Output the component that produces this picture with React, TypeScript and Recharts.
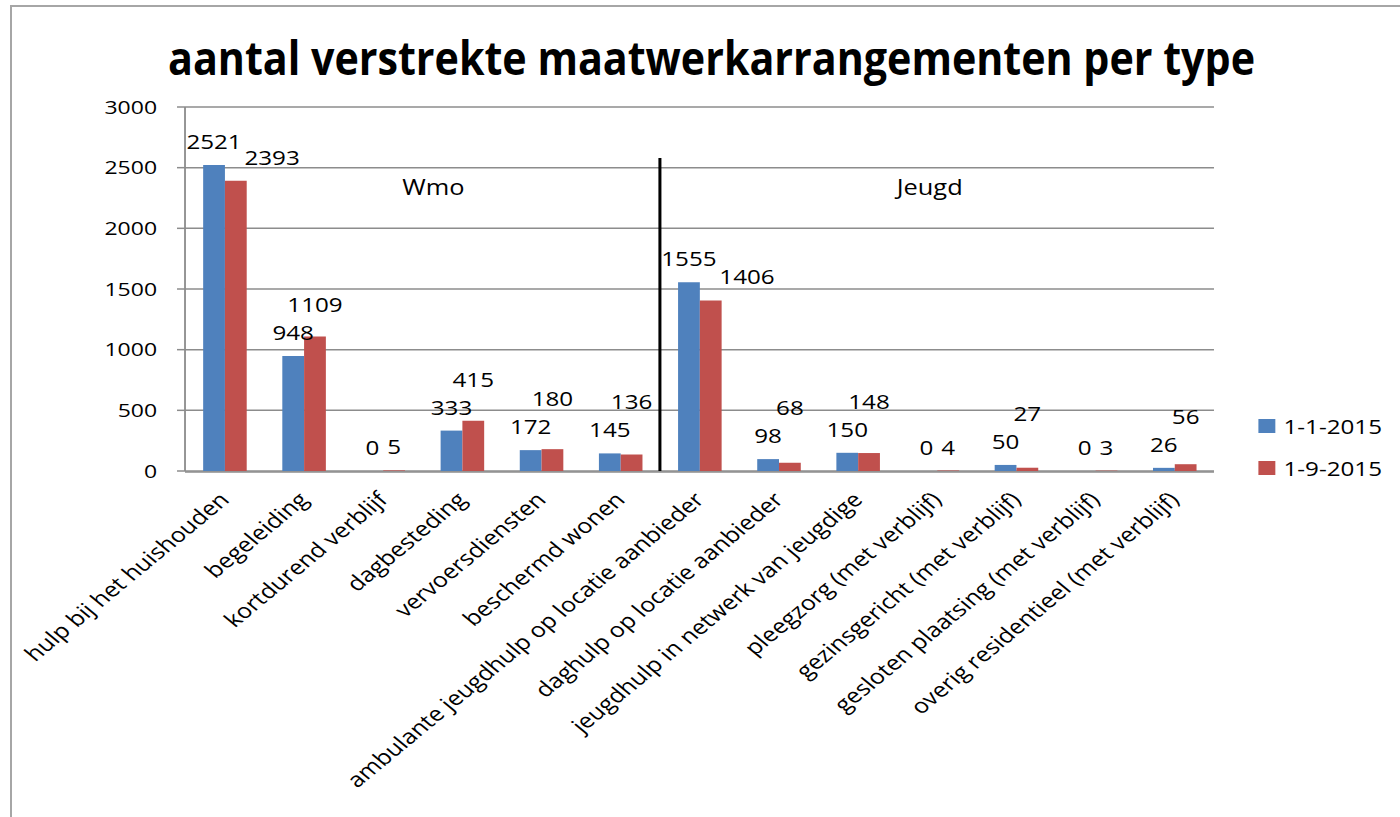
import { BarChart, Bar, XAxis, YAxis, CartesianGrid, Legend, LabelList, ReferenceLine, ReferenceArea } from 'recharts'

const categories = [
  'hulp bij het huishouden',
  'begeleiding',
  'kortdurend verblijf',
  'dagbesteding',
  'vervoersdiensten',
  'beschermd wonen',
  'ambulante jeugdhulp op locatie aanbieder',
  'daghulp op locatie aanbieder',
  'jeugdhulp in netwerk van jeugdige',
  'pleegzorg (met verblijf)',
  'gezinsgericht (met verblijf)',
  'gesloten plaatsing (met verblijf)',
  'overig residentieel (met verblijf)',
]
const jan2015 = [2521, 948, 0, 333, 172, 145, 1555, 98, 150, 0, 50, 0, 26]
const sep2015 = [2393, 1109, 5, 415, 180, 136, 1406, 68, 148, 4, 27, 3, 56]
const seriesNames = ['1-1-2015', '1-9-2015']
const yTicks = [0, 500, 1000, 1500, 2000, 2500, 3000]
const groups = ['Wmo', 'Jeugd']

const title = 'aantal verstrekte maatwerkarrangementen per type'

// the original picture is stretched sideways, so the chart is drawn narrow and widened
const STRETCH = 1.21
const FONT = "'Open Sans', sans-serif"
const GRID = '#8c8c8c'
const BLUE = '#4f81bd'
const RED = '#c0504d'
const LABEL_SIZE = 20
const DIGIT_W = 11.4

const data = categories.map((name, i) => ({
  name,
  slot: i,
  jan: jan2015[i],
  sep: sep2015[i],
}))
const edgeTicks = [...categories.map((_, i) => i), categories.length]

function CategoryTick({ x, y, payload }: any) {
  const tx = x + 5
  const ty = y + 30
  return (
    <text
      x={tx}
      y={ty}
      textAnchor="end"
      fontSize={20.6}
      fontFamily={FONT}
      fill="#000"
      transform={`rotate(-45, ${tx}, ${ty})`}
    >
      {payload.value}
    </text>
  )
}

function boxOf(props: any) {
  const vb = props.viewBox || props
  return { x: vb.x, y: vb.y, width: vb.width, height: vb.height }
}

function indexOf(props: any) {
  const i = categories.indexOf(props.payload?.name)
  return i >= 0 ? i : props.index
}

function JanLabel(props: any) {
  const { x, y, width } = boxOf(props)
  return (
    <text x={x + width / 2} y={y - 16} textAnchor="middle" fontSize={LABEL_SIZE} fontFamily={FONT} fill="#000">
      {jan2015[indexOf(props)]}
    </text>
  )
}

// second series label: moved aside or lifted when it would run into the first one
function SepLabel(props: any) {
  const { x, y, width, height } = boxOf(props)
  const i = indexOf(props)
  const value = sep2015[i]
  const other = jan2015[i]
  const perUnit = value > 0 ? height / value : 0
  const otherTop = y + height - other * perUnit
  const cx = x + width / 2
  const clash = ((String(value).length + String(other).length) * DIGIT_W) / 2 > width + 2
  let lx = cx
  let ly = y - 16
  if (clash) {
    if (y - otherTop > 14) lx = cx + 30
    else ly = Math.min(y - 15, otherTop - 44)
  }
  return (
    <text x={lx} y={ly} textAnchor="middle" fontSize={LABEL_SIZE} fontFamily={FONT} fill="#000">
      {value}
    </text>
  )
}

function LegendBox({ payload }: any) {
  return (
    <div style={{ fontFamily: FONT, fontSize: 20, color: '#000' }}>
      {(payload || []).map((entry: any) => (
        <div key={entry.value} style={{ display: 'flex', alignItems: 'center', height: 42 }}>
          <span style={{ width: 14, height: 14, background: entry.color, marginRight: 7, display: 'inline-block' }} />
          <span>{entry.value}</span>
        </div>
      ))}
    </div>
  )
}

export default function App() {
  const w = 1400 / STRETCH
  return (
    <div style={{ position: 'fixed', left: 0, top: 0, width: 1400, height: 817, background: '#fff', overflow: 'hidden' }}>
      <div
        style={{
          position: 'absolute',
          left: 10,
          top: 5,
          width: 1420,
          height: 840,
          borderTop: '2px solid #a6a6a6',
          borderLeft: '2px solid #a6a6a6',
        }}
      />
      <svg width={1400} height={100} style={{ position: 'absolute', left: 0, top: 0 }}>
        <text
          x={711.5}
          y={75}
          textAnchor="middle"
          textLength={1087}
          lengthAdjust="spacingAndGlyphs"
          fontSize={46}
          fontWeight="bold"
          fontFamily={FONT}
          fill="#000"
        >
          {title}
        </text>
      </svg>
      <div style={{ position: 'absolute', left: 0, top: 0, transform: `scaleX(${STRETCH})`, transformOrigin: '0 0' }}>
        <BarChart
          width={w}
          height={817}
          data={data}
          margin={{ top: 107, right: w - 1003.3, bottom: 344, left: 92.9 }}
          barGap={0}
          barSize={18}
        >
          <CartesianGrid vertical={false} stroke={GRID} strokeWidth={1.5} />
          <XAxis
            xAxisId="edge"
            type="number"
            dataKey="slot"
            domain={[0, categories.length]}
            ticks={edgeTicks}
            interval={0}
            allowDataOverflow
            height={1}
            tick={false}
            tickSize={6}
            stroke={GRID}
            strokeWidth={1.5}
          />
          <XAxis
            xAxisId="cat"
            dataKey="name"
            height={1}
            interval={0}
            axisLine={false}
            tickLine={false}
            tickSize={0}
            tickMargin={0}
            tick={<CategoryTick />}
          />
          <YAxis
            width={60}
            domain={[0, 3000]}
            ticks={yTicks}
            interval={0}
            tickSize={6.6}
            tickMargin={16.5}
            stroke={GRID}
            strokeWidth={1.5}
            tick={{ fill: '#000', fontSize: 19, fontFamily: FONT }}
          />
          <ReferenceArea
            xAxisId="cat"
            x1={categories[0]}
            x2={categories[5]}
            y1={0}
            y2={2580}
            fillOpacity={0}
            strokeOpacity={0}
            label={{ value: groups[0], position: 'insideTop', offset: 22, dx: 9, fontSize: 21, fontFamily: FONT, fill: '#000' }}
          />
          <ReferenceArea
            xAxisId="cat"
            x1={categories[6]}
            x2={categories[12]}
            y1={0}
            y2={2580}
            fillOpacity={0}
            strokeOpacity={0}
            label={{ value: groups[1], position: 'insideTop', offset: 22, dx: -6, fontSize: 21, fontFamily: FONT, fill: '#000' }}
          />
          <Legend
            layout="vertical"
            align="center"
            verticalAlign="middle"
            wrapperStyle={{ left: 1039.7, top: 405, width: 110 }}
            content={<LegendBox />}
          />
          <Bar xAxisId="cat" dataKey="jan" name={seriesNames[0]} fill={BLUE} minPointSize={0.01} isAnimationActive={false}>
            <LabelList dataKey="jan" content={JanLabel} />
          </Bar>
          <Bar xAxisId="cat" dataKey="sep" name={seriesNames[1]} fill={RED} minPointSize={0.01} isAnimationActive={false}>
            <LabelList dataKey="sep" content={SepLabel} />
          </Bar>
          <ReferenceLine
            xAxisId="cat"
            segment={[
              { x: categories[6], y: 0 },
              { x: categories[6], y: 2580 },
            ]}
            position="start"
            stroke="#000"
            strokeWidth={2.5}
          />
        </BarChart>
      </div>
    </div>
  )
}
